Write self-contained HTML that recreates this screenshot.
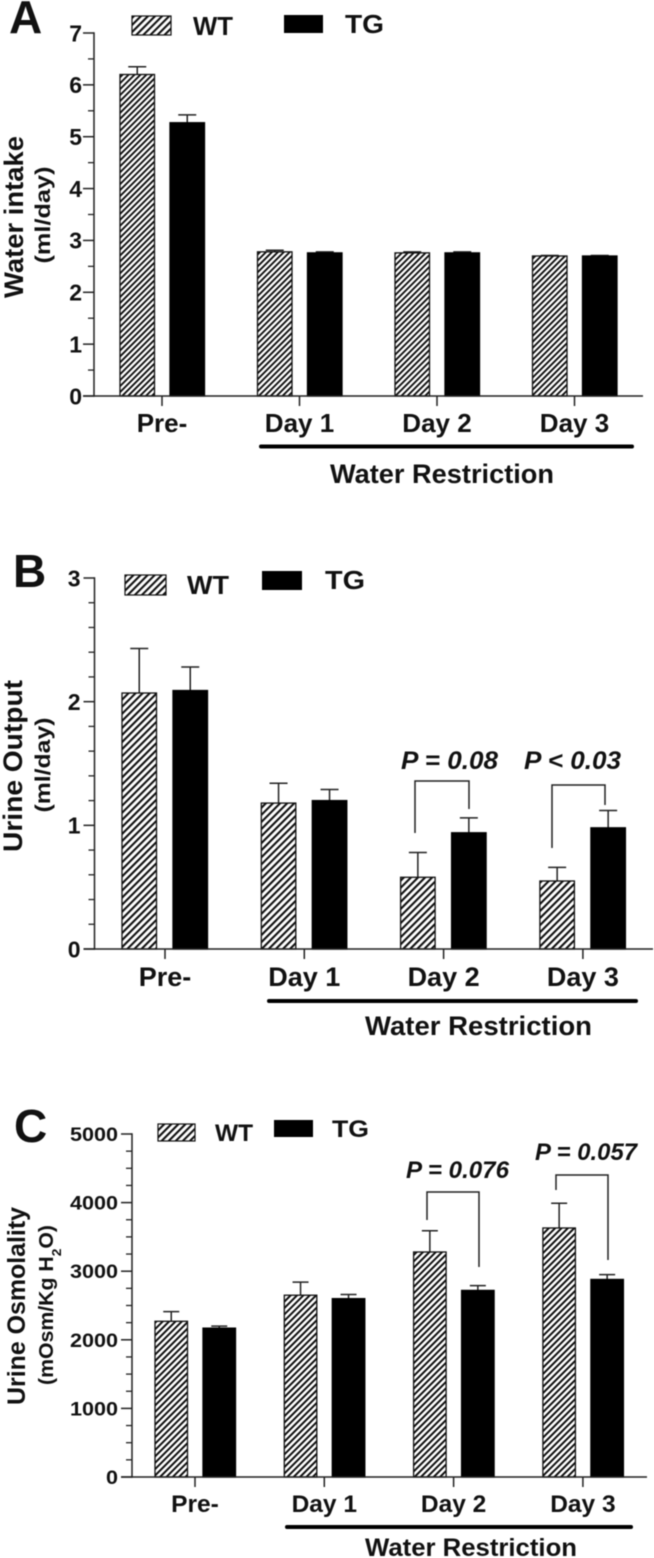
<!DOCTYPE html>
<html lang="en">
<head>
<meta charset="utf-8">
<title>Water intake, urine output and urine osmolality</title>
<style>
html,body{margin:0;padding:0;background:#fff;}
svg{display:block;filter:blur(0.45px);}
text{font-family:"Liberation Sans",sans-serif;font-weight:bold;fill:#111;}
</style>
</head>
<body>
<svg id="fig" xmlns="http://www.w3.org/2000/svg" width="654" height="1558" viewBox="0 0 654 1558">
  <defs>
    <pattern id="hatchA" patternUnits="userSpaceOnUse" width="4.2" height="4.2" patternTransform="rotate(45)">
      <rect width="4.2" height="4.2" fill="#fff"></rect>
      <rect x="0" width="1.9" height="4.2" fill="#111"></rect>
    </pattern>
    <pattern id="hatchB" patternUnits="userSpaceOnUse" width="5" height="5" patternTransform="rotate(45)">
      <rect width="5" height="5" fill="#fff"></rect>
      <rect x="0" width="2.1" height="5" fill="#111"></rect>
    </pattern>
    <pattern id="hatchC" patternUnits="userSpaceOnUse" width="4.5" height="4.5" patternTransform="rotate(45)">
      <rect width="4.5" height="4.5" fill="#fff"></rect>
      <rect x="0" width="2" height="4.5" fill="#111"></rect>
    </pattern>
  </defs>
</svg>
<script>
const categories = ['Pre-', 'Day 1', 'Day 2', 'Day 3'];

const ticksA = [0, 1, 2, 3, 4, 5, 6, 7];
const wtA = [6.2, 2.78, 2.76, 2.7];
const wtErrA = [0.15, 0.03, 0.02, 0.01];
const tgA = [5.27, 2.76, 2.76, 2.7];
const tgErrA = [0.15, 0.02, 0.02, 0.01];

const ticksB = [0, 1, 2, 3];
const wtB = [2.07, 1.18, 0.58, 0.55];
const wtErrB = [0.36, 0.16, 0.2, 0.11];
const tgB = [2.09, 1.2, 0.94, 0.98];
const tgErrB = [0.19, 0.09, 0.12, 0.14];

const ticksC = [0, 1000, 2000, 3000, 4000, 5000];
const wtC = [2270, 2650, 3280, 3630];
const wtErrC = [140, 190, 310, 360];
const tgC = [2170, 2600, 2720, 2880];
const tgErrC = [30, 60, 70, 70];

const svg = document.getElementById('fig');
const NS = 'http://www.w3.org/2000/svg';
const INK = '#222';

function mk(tag, attrs, parent, txt) {
  const el = document.createElementNS(NS, tag);
  for (const k in attrs) el.setAttribute(k, attrs[k]);
  if (txt !== undefined) el.textContent = txt;
  (parent || svg).appendChild(el);
  return el;
}
function line(x1, y1, x2, y2, w, parent, name) {
  const el = mk('line', {x1: x1, y1: y1, x2: x2, y2: y2, stroke: INK, 'stroke-width': w}, parent);
  
  
  return el;
}
function label(x, y, size, str, anchor, parent, name, extra) {
  const attrs = Object.assign({x: x, y: y, 'font-size': size, 'text-anchor': anchor}, extra || {});
  const el = mk('text', attrs, parent, str);
  
  
  return el;
}

function drawPanel(p) {
  const g = mk('g', {});
  
  
  const yScale = v => p.y0 - (v / p.max) * (p.y0 - p.yTop);
  const cx = i => p.first + i * p.step;
  const hatch = 'url(#hatch' + p.id + ')';

  // bars + error bars
  const series = [
    {key: 'wt', vals: p.wt, errs: p.wtErr, off: p.wtOff, fill: hatch, stroke: '#111'},
    {key: 'tg', vals: p.tg, errs: p.tgErr, off: p.tgOff, fill: '#000', stroke: '#000'}
  ];
  series.forEach(s => {
    s.vals.forEach((v, i) => {
      const x = cx(i) + s.off;
      const mid = x + p.bw / 2;
      const top = yScale(v);
      const errTop = yScale(v + s.errs[i]);
      line(mid, top, mid, errTop, 1.5, g, 'error-stem-' + s.key + '-' + i);
      line(mid - p.cap, errTop, mid + p.cap, errTop, 1.5, g, 'error-cap-' + s.key + '-' + i);
      const bar = mk('rect', {x: x, y: top, width: p.bw, height: p.y0 - top, fill: s.fill, stroke: s.stroke, 'stroke-width': 1.3}, g);
      
      
    });
  });

  // y axis
  line(p.ax, p.yTop - 0.7, p.ax, p.y0 + 0.7, 1.5, g, 'y-axis');
  const stepVal = p.ticks[1] - p.ticks[0];
  p.ticks.forEach((t, i) => {
    const y = yScale(t);
    line(p.ax - 11, y, p.ax, y, 1.5, g, 'y-tick-' + t);
    const tickLabel = label(p.ax - p.labelGap, y + p.tickSize * 0.36, p.tickSize, String(t), 'end', g, 'y-tick-label-' + t);
    if (p.digitW) {
      tickLabel.setAttribute('textLength', String(t).length * p.digitW);
      tickLabel.setAttribute('lengthAdjust', 'spacingAndGlyphs');
    }
    if (i < p.ticks.length - 1) {
      for (let m = 1; m <= p.minor; m++) {
        const my = yScale(t + stepVal * m / (p.minor + 1));
        line(p.ax - 6, my, p.ax, my, 1.3, g, 'y-minor-tick');
      }
    }
  });

  // x axis
  line(p.ax - 11, p.y0, p.axEnd, p.y0, 1.5, g, 'x-axis');
  categories.forEach((c, i) => {
    line(cx(i), p.y0, cx(i), p.y0 + 10, 1.5, g, 'x-tick-' + i);
    label(cx(i) + p.catOff, p.catY, p.catSize, c, 'middle', g, 'x-label-' + i);
  });

  // water restriction bar
  const wb = mk('line', {x1: p.wx1, y1: p.wy, x2: p.wx2, y2: p.wy, stroke: '#000', 'stroke-width': 4, 'stroke-linecap': 'round'}, g);
  
  
  label(p.wtx, p.wty, p.wtSize, 'Water Restriction', 'start', g, 'water-restriction-label', {textLength: p.wtw, lengthAdjust: 'spacingAndGlyphs'});

  // panel letter
  label(p.lx, p.ly, 46, p.id, 'start', g, 'panel-letter-' + p.id);

  // legend
  const lw = mk('rect', {x: p.lgW[0], y: p.lgW[1], width: p.lgW[2], height: p.lgW[3], fill: 'url(#hatchB)', stroke: '#111', 'stroke-width': 1.2}, g);
  
  
  label(p.lgWt[0], p.lgWt[1], p.lgSize, 'WT', 'start', g, 'legend-label-wt', {textLength: p.lgWt[2], lengthAdjust: 'spacingAndGlyphs'});
  const lt = mk('rect', {x: p.lgT[0], y: p.lgT[1], width: p.lgT[2], height: p.lgT[3], fill: '#000'}, g);
  
  
  label(p.lgTt[0], p.lgTt[1], p.lgSize, 'TG', 'start', g, 'legend-label-tg', {textLength: p.lgTt[2], lengthAdjust: 'spacingAndGlyphs'});

  // y titles
  label(0, 0, p.t1Size, p.t1, 'middle', g, 'y-axis-title', {transform: 'translate(' + p.t1x + ',' + p.t1y + ') rotate(-90)', textLength: p.t1w, lengthAdjust: 'spacingAndGlyphs'});
  const t2 = label(0, 0, p.t2Size, '', 'middle', g, 'y-axis-unit', {transform: 'translate(' + p.t2x + ',' + p.t2y + ') rotate(-90)', textLength: p.t2w, lengthAdjust: 'spacingAndGlyphs'});
  p.t2parts.forEach(part => {
    mk('tspan', part[1] ? {'baseline-shift': 'sub', 'font-size': p.t2Size * 0.65} : {}, t2, part[0]);
  });

  // significance brackets
  (p.brackets || []).forEach((b, i) => {
    const pl = mk('polyline', {points: b.x1 + ',' + b.yl + ' ' + b.x1 + ',' + b.y + ' ' + b.x2 + ',' + b.y + ' ' + b.x2 + ',' + b.yr, fill: 'none', stroke: INK, 'stroke-width': 1.5}, g);
    
    
    label(b.tx, b.ty, b.size, b.txt, 'start', g, 'p-value-' + i, {'font-style': 'italic', textLength: b.tw, lengthAdjust: 'spacingAndGlyphs'});
  });
}

drawPanel({
  id: 'A', y0: 396, yTop: 33, max: 7, ax: 94, axEnd: 643, ticks: ticksA, minor: 1,
  wt: wtA, wtErr: wtErrA, tg: tgA, tgErr: tgErrA,
  first: 162, step: 137.5, wtOff: -42, tgOff: 8, bw: 34.5, cap: 9,
  tickSize: 23, labelGap: 12, catSize: 26, catY: 432, catOff: 0,
  wx1: 261, wx2: 632, wy: 446.5, wtx: 330, wty: 483, wtw: 224, wtSize: 26.5,
  lx: 9, ly: 33,
  lgW: [132, 16, 39, 19], lgWt: [193, 35, 40], lgT: [284, 15, 39, 18], lgTt: [345, 33, 39], lgSize: 26,
  t1: 'Water intake', t1x: 23, t1y: 217, t1w: 162, t1Size: 27,
  t2parts: [['(ml/day)', false]], t2x: 50, t2y: 215, t2w: 97, t2Size: 21
});

drawPanel({
  id: 'B', y0: 949, yTop: 578, max: 3, ax: 94.5, axEnd: 653, ticks: ticksB, minor: 4,
  wt: wtB, wtErr: wtErrB, tg: tgB, tgErr: tgErrB,
  first: 165, step: 139.3, wtOff: -43, tgOff: 8, bw: 34.5, cap: 9,
  tickSize: 23, labelGap: 14, catSize: 27, catY: 986, catOff: 0,
  wx1: 269, wx2: 636, wy: 1001, wtx: 365, wty: 1035, wtw: 227, wtSize: 27,
  lx: 13, ly: 587,
  lgW: [125, 575, 41, 20], lgWt: [187, 594, 42], lgT: [262, 571, 40, 19], lgTt: [325, 589, 40], lgSize: 26,
  t1: 'Urine Output', t1x: 22, t1y: 766, t1w: 172, t1Size: 27,
  t2parts: [['(ml/day)', false]], t2x: 50, t2y: 765, t2w: 95, t2Size: 21,
  brackets: [
    {x1: 415, x2: 469, y: 781, yl: 833, yr: 809, tx: 401, ty: 769, tw: 97, size: 25, txt: 'P = 0.08'},
    {x1: 552, x2: 605, y: 785, yl: 848, yr: 805, tx: 524, ty: 769, tw: 97, size: 25, txt: 'P < 0.03'}
  ]
});

drawPanel({
  id: 'C', y0: 1477, yTop: 1134, max: 5000, ax: 132, axEnd: 647, ticks: ticksC, minor: 3,
  wt: wtC, wtErr: wtErrC, tg: tgC, tgErr: tgErrC,
  first: 195, step: 129.3, wtOff: -40, tgOff: 8, bw: 32.5, cap: 8,
  tickSize: 19.5, labelGap: 14, digitW: 12, catSize: 24.5, catY: 1512, catOff: 0,
  wx1: 287, wx2: 631, wy: 1527, wtx: 365, wty: 1556, wtw: 212, wtSize: 25,
  lx: 14, ly: 1142,
  lgW: [158, 1124, 37, 17], lgWt: [215, 1141, 38], lgT: [274, 1120, 39, 17], lgTt: [332, 1137, 37], lgSize: 24,
  t1: 'Urine Osmolality', t1x: 25, t1y: 1306, t1w: 198, t1Size: 25,
  t2parts: [['(mOsm/Kg H', false], ['2', true], ['O)', false]], t2x: 53, t2y: 1305, t2w: 160, t2Size: 20,
  brackets: [
    {x1: 427, x2: 479, y: 1192, yl: 1220, yr: 1267, tx: 406, ty: 1178, tw: 103, size: 24, txt: 'P = 0.076'},
    {x1: 556, x2: 608, y: 1175, yl: 1190, yr: 1260, tx: 535, ty: 1160, tw: 102, size: 24, txt: 'P = 0.057'}
  ]
});
</script>
</body>
</html>
